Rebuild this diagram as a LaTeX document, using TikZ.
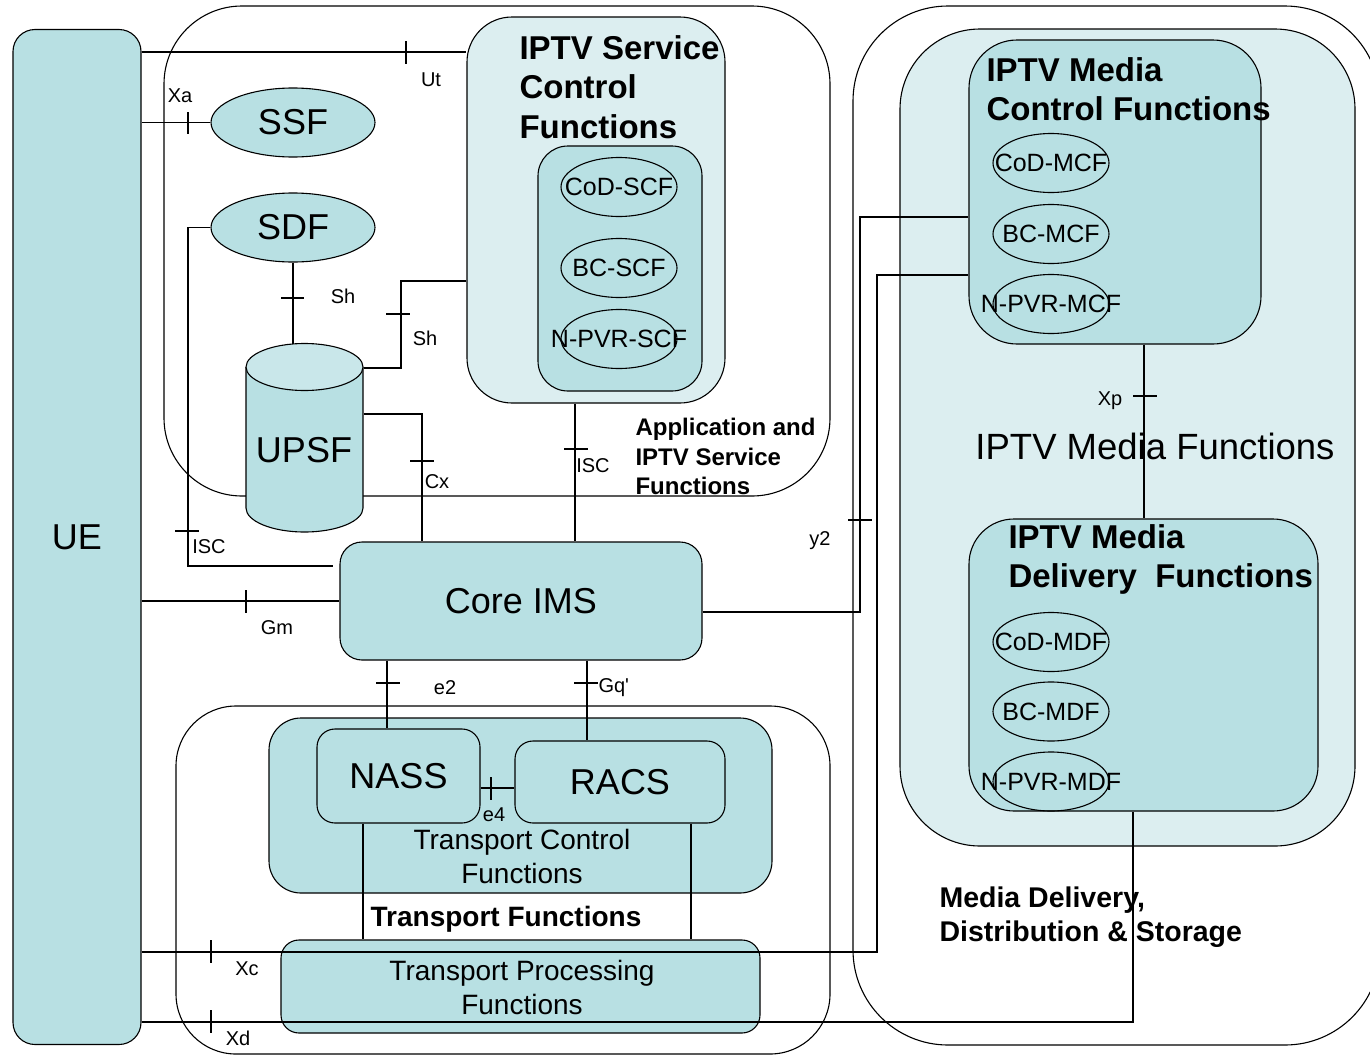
\documentclass[tikz,border=0pt]{standalone}
\usepackage{fontspec}
\setmainfont{Liberation Sans}
\usetikzlibrary{shapes.geometric,calc}
\definecolor{fillA}{HTML}{B8E0E3}
\definecolor{fillB}{HTML}{DCEEF0}
\definecolor{fillTop}{HTML}{C9E7EA}
\begin{document}
\begin{tikzpicture}[x=1pt,y=-1pt,line width=1.1pt,
  frame/.style={draw,rectangle,inner sep=0pt},
  ell/.style={draw,ellipse,inner sep=0pt,minimum width=116pt,minimum height=59pt},
  bigell/.style={draw,ellipse,fill=fillA,inner sep=0pt,minimum width=164pt,minimum height=69pt,font=\fontsize{36}{43}\selectfont},
  lbl/.style={font=\fontsize{20}{24}\selectfont,inner sep=0pt},
  etxt/.style={font=\fontsize{25}{30}\selectfont,inner sep=0pt},
  big/.style={font=\fontsize{36}{43}\selectfont},
  ttl/.style={font=\fontsize{33}{39.5}\selectfont\bfseries,align=left,anchor=north west,inner sep=0pt},
  tickmark/.style={line width=1.1pt}]
\useasboundingbox (0,0) rectangle (1370,1055);

% group frames
\node[frame,rounded corners=78pt,minimum width=666pt,minimum height=490pt] (app) at (497,251) {};
\node[frame,rounded corners=95pt,minimum width=527pt,minimum height=1039pt] (mdist) at (1116.5,525.5) {};
\node[frame,rounded corners=60pt,minimum width=654pt,minimum height=348pt] (trans) at (503,880) {};

% UE
\node[frame,fill=fillA,rounded corners=22pt,minimum width=128pt,minimum height=1015pt,big] (UE) at (77,537) {UE};

% IPTV service control
\node[frame,fill=fillB,rounded corners=45pt,minimum width=258pt,minimum height=386pt] (svc) at (596,210) {};
\node[ttl] (svct) at (519,35) {IPTV Service\\Control\\Functions};
\node[frame,fill=fillA,rounded corners=30pt,minimum width=164pt,minimum height=245pt] (svcin) at (620,268.5) {};
\node[ell] (codscf) at (619,187) {};
\node[etxt] (codscft) at (codscf) {CoD-SCF};
\node[ell] (bcscf) at (619,268) {};
\node[etxt] (bcscft) at (bcscf) {BC-SCF};
\node[ell] (npvrscf) at (619,339) {};
\node[etxt] (npvrscft) at (npvrscf) {N-PVR-SCF};

% SSF, SDF
\node[bigell] (SSF) at (293,122.5) {SSF};
\node[bigell] (SDF) at (293,227.5) {SDF};

% UPSF cylinder
\filldraw[fill=fillA] (246,367) -- (246,508) arc[start angle=180,end angle=360,x radius=58.5pt,y radius=24pt] -- (363,367);
\filldraw[fill=fillTop] (304.5,367) ellipse[x radius=58.5pt,y radius=23.5pt];
\node[inner sep=0pt,minimum width=117pt,minimum height=188pt] (UPSF) at (304.5,438) {};
\coordinate (upsftop) at (304.5,344);
\node[big] (upsft) at (304,450) {UPSF};

% Core IMS
\node[frame,fill=fillA,rounded corners=22pt,minimum width=362pt,minimum height=118pt,big] (core) at (521,601) {Core IMS};

% Transport
\node[frame,fill=fillA,rounded corners=32pt,minimum width=503pt,minimum height=175pt] (tcf) at (520.5,805.5) {};
\node[frame,fill=fillA,rounded corners=18pt,minimum width=163pt,minimum height=94pt,big] (nass) at (398.5,776) {NASS};
\node[frame,fill=fillA,rounded corners=18pt,minimum width=210pt,minimum height=82pt,big] (racs) at (620,782) {RACS};
\node[font=\fontsize{28}{34}\selectfont,align=center,inner sep=0pt] (tcft) at (522,856) {Transport Control\\Functions};
\node[font=\fontsize{28}{34}\selectfont\bfseries,inner sep=0pt] (transt) at (506,919) {Transport Functions};
\node[frame,fill=fillA,rounded corners=18pt,minimum width=479pt,minimum height=93pt] (tpf) at (520.5,986.5) {};
\node[font=\fontsize{28}{34}\selectfont,align=center,inner sep=0pt] (tpft) at (522,987) {Transport Processing\\Functions};

% Media functions
\node[frame,fill=fillB,rounded corners=80pt,minimum width=455pt,minimum height=817pt] (mf) at (1127.5,437.5) {};
\node[font=\fontsize{36.5}{44}\selectfont,inner sep=0pt] (mft) at (1155,446) {IPTV Media Functions};
\node[frame,fill=fillA,rounded corners=48pt,minimum width=292pt,minimum height=304pt] (mcf) at (1115,192) {};
\node[ttl] (mcft) at (986,57) {IPTV Media\\Control Functions};
\node[ell] (codmcf) at (1051,163) {};
\node[etxt] (codmcft) at (codmcf) {CoD-MCF};
\node[ell] (bcmcf) at (1051,234) {};
\node[etxt] (bcmcft) at (bcmcf) {BC-MCF};
\node[ell] (npvrmcf) at (1051,304) {};
\node[etxt] (npvrmcft) at (npvrmcf) {N-PVR-MCF};
\node[frame,fill=fillA,rounded corners=45pt,minimum width=349pt,minimum height=292pt] (mdf) at (1143.5,665) {};
\node[ttl] (mdft) at (1008,524) {IPTV Media\\Delivery\ \ Functions};
\node[ell] (codmdf) at (1051,642) {};
\node[etxt] (codmdft) at (codmdf) {CoD-MDF};
\node[ell] (bcmdf) at (1051,711.5) {};
\node[etxt] (bcmdft) at (bcmdf) {BC-MDF};
\node[ell] (npvrmdf) at (1051,781.5) {};
\node[etxt] (npvrmdft) at (npvrmdf) {N-PVR-MDF};

% group titles
\node[font=\fontsize{24}{29.5}\selectfont\bfseries,align=left,anchor=north west,inner sep=0pt] (appt) at (635,418) {Application and\\IPTV Service\\Functions};
\node[font=\fontsize{28.5}{34}\selectfont\bfseries,align=left,anchor=north west,inner sep=0pt] (mdistt) at (939,886) {Media Delivery,\\Distribution \& Storage};

% connectors
\draw (UE.east |- 0,52) -- (svc.west |- 0,52);
\draw (UE.east |- SSF.west) -- (SSF.west);
\coordinate (iscend) at ($(core.west |- 0,566)+(-6,0)$);
\draw (SDF.west) -- (188,227.5) -- (188,566) -- (iscend);
\draw (SDF.south) -- (SDF.south |- upsftop);
\draw (UPSF.east |- 0,368) -- (401,368) -- (401,281) -- (svc.west |- 0,281);
\draw (UPSF.east |- 0,414) -- (422,414) -- (core.north -| 422,0);
\draw (svc.south -| 575,0) -- (core.north -| 575,0);
\draw (UE.east |- 0,601) -- (core.west |- 0,601);
\draw (core.east |- 0,612) -- (860,612) -- (860,217) -- (mcf.west |- 0,217);
\draw (UE.east |- 0,952) -- (877,952) -- (877,275) -- (mcf.west |- 0,275);
\draw (UE.east |- 0,1022) -- (1133,1022) -- (mdf.south -| 1133,0);
\draw (core.south -| 387,0) -- (nass.north -| 387,0);
\draw (core.south -| 587,0) -- (racs.north -| 587,0);
\draw (nass.east |- 0,788) -- (racs.west |- 0,788);
\draw (nass.south -| 363,0) -- (tpf.north -| 363,0);
\draw (racs.south -| 691,0) -- (tpf.north -| 691,0);
\draw (mcf.south -| 1144,0) -- (mdf.north -| 1144,0);

% ticks
\draw[tickmark] (406,41) -- (406,64);
\draw[tickmark] (188,112) -- (188,134);
\draw[tickmark] (175,531) -- (199,531);
\draw[tickmark] (281,298) -- (304,298);
\draw[tickmark] (386,314) -- (410,314);
\draw[tickmark] (410,461) -- (434,461);
\draw[tickmark] (564,449) -- (588,449);
\draw[tickmark] (246,590) -- (246,613);
\draw[tickmark] (848,520) -- (872,520);
\draw[tickmark] (211,940) -- (211,963);
\draw[tickmark] (211,1010) -- (211,1033);
\draw[tickmark] (376,683) -- (400,683);
\draw[tickmark] (574,683) -- (598,683);
\draw[tickmark] (491,777) -- (491,800);
\draw[tickmark] (1133,396) -- (1157,396);

% interface labels
\node[lbl] (lut) at (431,80) {Ut};
\node[lbl] (lxa) at (180,96) {Xa};
\node[lbl] (lsh1) at (343,296) {Sh};
\node[lbl] (lsh2) at (425,338) {Sh};
\node[lbl] (lcx) at (437,482) {Cx};
\node[lbl] (lisc1) at (593,466) {ISC};
\node[lbl] (lisc2) at (209,547) {ISC};
\node[lbl] (lgm) at (277,628) {Gm};
\node[lbl] (le2) at (445,688) {e2};
\node[lbl,anchor=west] (lgq) at (598,688) {Gq\textquotesingle};
\node[lbl] (le4) at (494,815) {e4};
\node[lbl] (ly2) at (820,541) {y2};
\node[lbl] (lxp) at (1110,401) {Xp};
\node[lbl] (lxc) at (247,969) {Xc};
\node[lbl] (lxd) at (238,1038) {Xd};
\end{tikzpicture}
\end{document}
